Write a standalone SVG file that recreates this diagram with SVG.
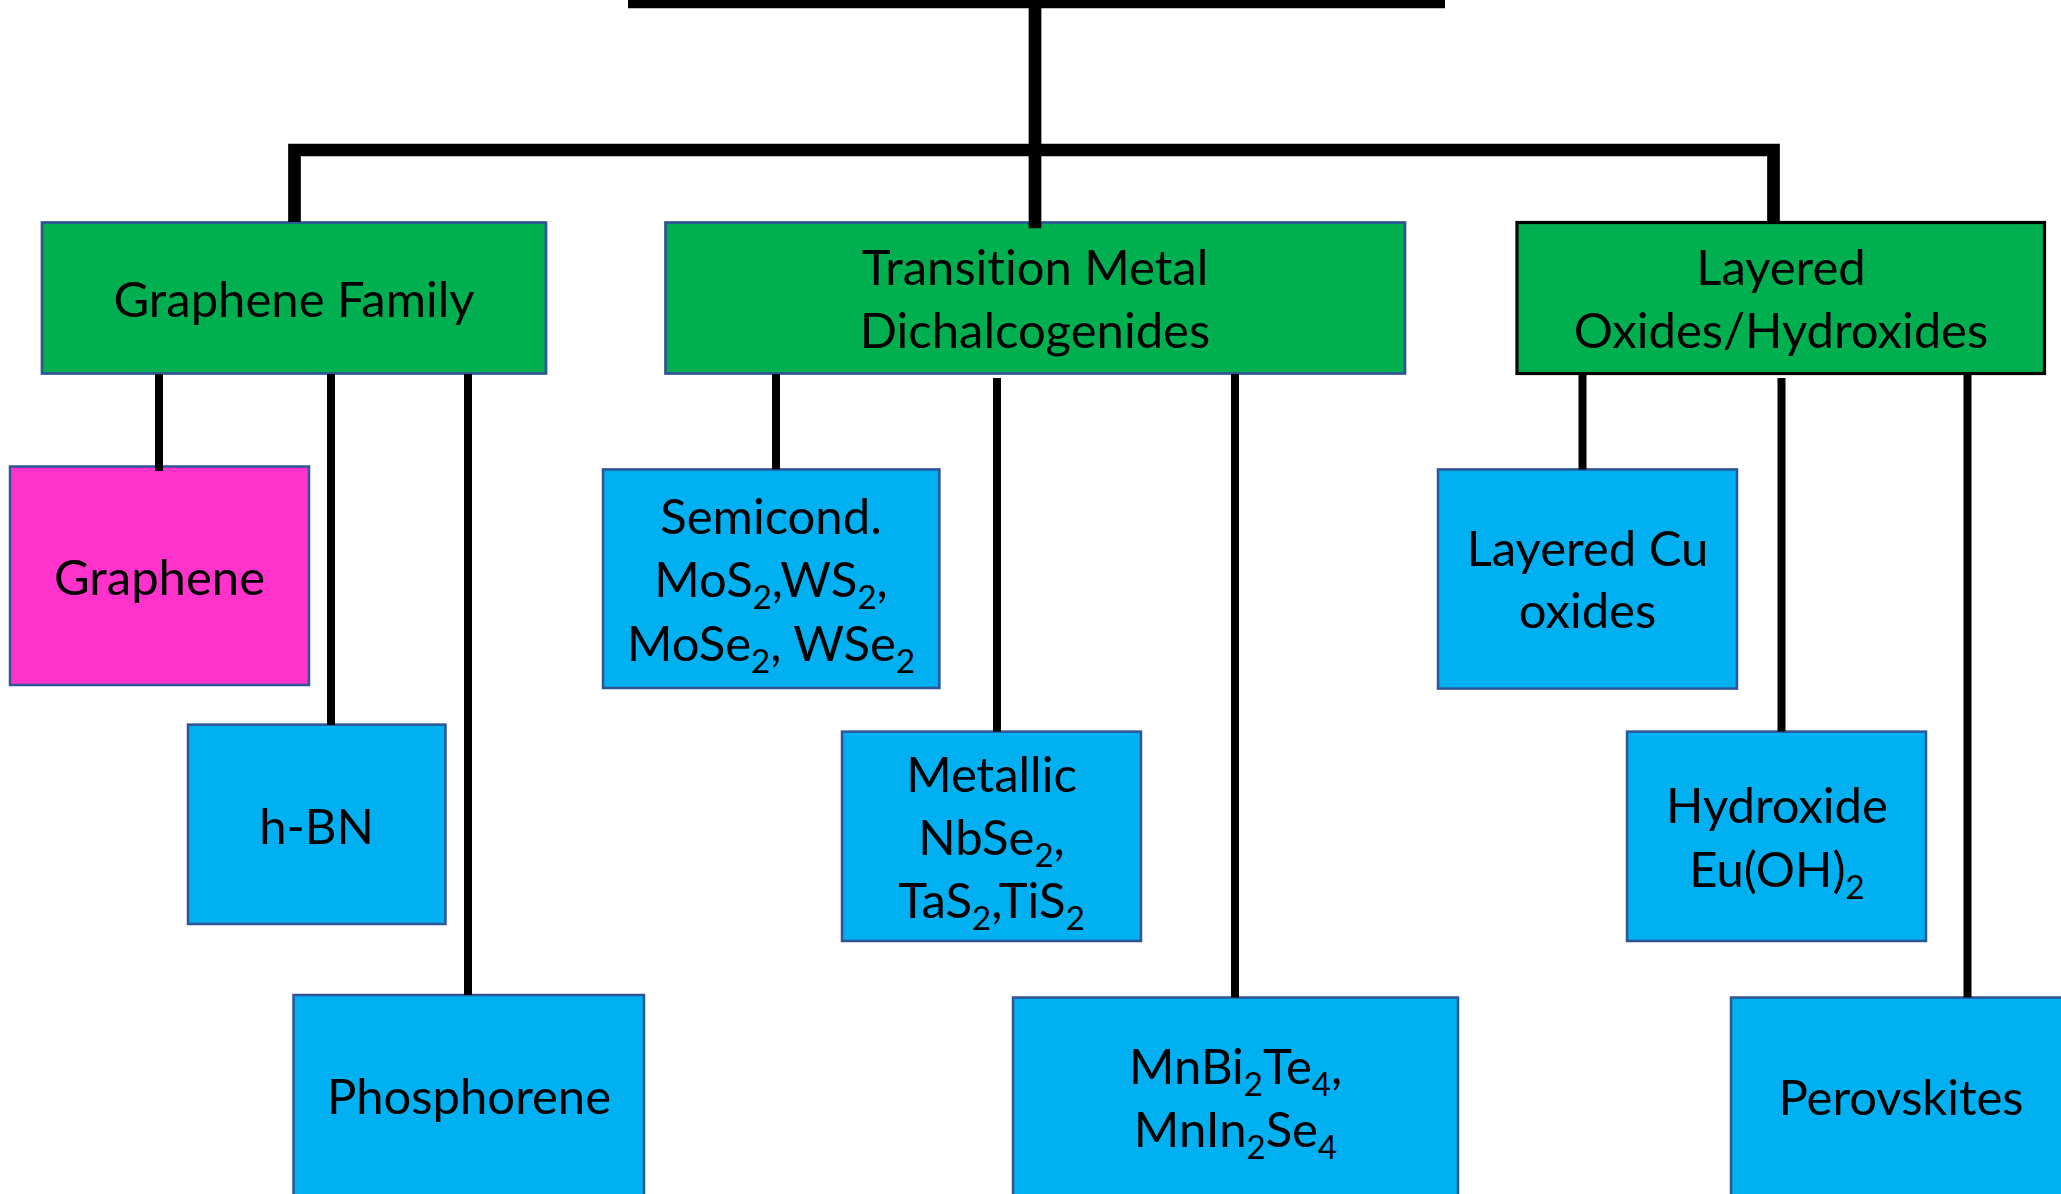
<svg xmlns="http://www.w3.org/2000/svg" width="2061" height="1194" viewBox="0 0 2061 1194">
<style>
.cat{fill:#00B050;stroke:#2F5597;stroke-width:2.7}
.catk{fill:#00B050;stroke:#000;stroke-width:3.2}
.sub{fill:#00B0F0;stroke:#2F5597;stroke-width:2.5}
.pink{fill:#FF33CC;stroke:#2F5597;stroke-width:2.5}
.t{font-family:Lato,"Liberation Sans",sans-serif;font-size:49px;fill:#000;text-anchor:middle;font-variant-ligatures:none}
.s{font-size:33px}
.main{fill:none;stroke:#000;stroke-width:12.7;stroke-linejoin:miter;stroke-linecap:butt}
.br{fill:none;stroke:#000;stroke-width:8;stroke-linecap:butt}
</style>
<rect width="2061" height="1194" fill="#fff"/>

<g id="graphene-family">
<rect class="cat" x="42" y="222.5" width="504" height="151"/>
<text class="t" x="294" y="317">Graphene Family</text>
</g>
<g id="tmd">
<rect class="cat" x="665.5" y="222.5" width="739.5" height="151"/>
<text class="t" x="1035" y="285">Transition Metal</text>
<text class="t" x="1035" y="348">Dichalcogenides</text>
</g>
<g id="layered-oxides">
<rect class="catk" x="1517" y="222.5" width="527.5" height="151"/>
<text class="t" x="1781" y="285">Layered</text>
<text class="t" x="1781" y="348">Oxides/Hydroxides</text>
</g>

<g id="graphene">
<rect class="pink" x="10" y="466.5" width="299" height="218.5"/>
<text class="t" x="159.5" y="595">Graphene</text>
</g>
<g id="hbn">
<rect class="sub" x="188" y="724.6" width="257.5" height="199.4"/>
<text class="t" x="316.5" y="844">h-BN</text>
</g>
<g id="phosphorene">
<rect class="sub" x="293.5" y="995" width="350.5" height="215"/>
<text class="t" x="469" y="1114">Phosphorene</text>
</g>

<g id="semicond">
<rect class="sub" x="603" y="469.4" width="336.4" height="218.6"/>
<text class="t" x="771" y="534">Semicond.</text>
<text class="t" x="771" y="597">MoS<tspan class="s" dy="12">2</tspan><tspan dy="-12">,WS</tspan><tspan class="s" dy="12">2</tspan><tspan dy="-12">,</tspan></text>
<text class="t" x="771" y="661">MoSe<tspan class="s" dy="12">2</tspan><tspan dy="-12">, WSe</tspan><tspan class="s" dy="12">2</tspan></text>
</g>
<g id="metallic">
<rect class="sub" x="842" y="731.6" width="299" height="209.4"/>
<text class="t" x="991.5" y="792">Metallic</text>
<text class="t" x="991.5" y="855">NbSe<tspan class="s" dy="12">2</tspan><tspan dy="-12">,</tspan></text>
<text class="t" x="991.5" y="918">TaS<tspan class="s" dy="12">2</tspan><tspan dy="-12">,TiS</tspan><tspan class="s" dy="12">2</tspan></text>
</g>
<g id="mnbi2te4">
<rect class="sub" x="1013" y="997.5" width="445" height="215"/>
<text class="t" x="1235.5" y="1083.5">MnBi<tspan class="s" dy="12">2</tspan><tspan dy="-12">Te</tspan><tspan class="s" dy="12">4</tspan><tspan dy="-12">,</tspan></text>
<text class="t" x="1235.5" y="1147">MnIn<tspan class="s" dy="12">2</tspan><tspan dy="-12">Se</tspan><tspan class="s" dy="12">4</tspan></text>
</g>

<g id="cu-oxides">
<rect class="sub" x="1438" y="469.4" width="299" height="219.2"/>
<text class="t" x="1587.5" y="566">Layered Cu</text>
<text class="t" x="1587.5" y="628">oxides</text>
</g>
<g id="hydroxide">
<rect class="sub" x="1627" y="731.6" width="299" height="209.4"/>
<text class="t" x="1777" y="823">Hydroxide</text>
<text class="t" x="1777" y="887">Eu(OH)<tspan class="s" dy="12">2</tspan></text>
</g>
<g id="perovskites">
<rect class="sub" x="1731" y="997.5" width="345" height="215"/>
<text class="t" x="1901" y="1115">Perovskites</text>
</g>

<g id="connectors">
<path class="main" d="M628,2 H1445"/>
<path class="main" d="M1035,0 V228.3"/>
<path class="main" d="M294.5,222 V150 H1773.5 V222"/>
<path class="br" d="M159,374 V471"/>
<path class="br" d="M331,374 V725"/>
<path class="br" d="M468,374 V995"/>
<path class="br" d="M776,374 V469.4"/>
<path class="br" d="M997,378 V731.6"/>
<path class="br" d="M1235,374 V997.5"/>
<path class="br" d="M1582.5,374 V469.4"/>
<path class="br" d="M1781.5,378 V731.6"/>
<path class="br" d="M1967.5,374 V997.5"/>
</g>
</svg>
